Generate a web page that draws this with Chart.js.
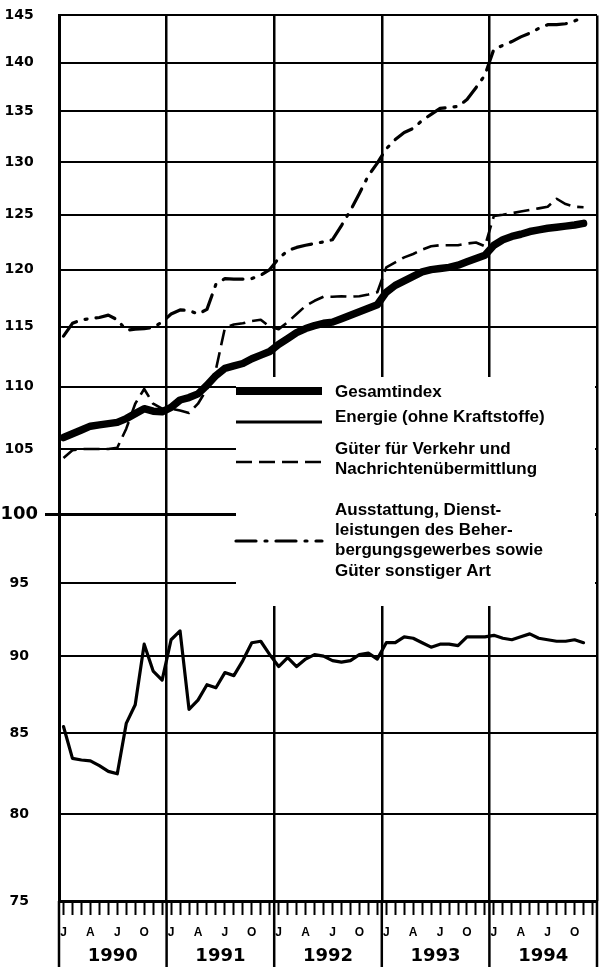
<!DOCTYPE html>
<html><head><meta charset="utf-8">
<script src="https://cdn.jsdelivr.net/npm/chart.js@4/dist/chart.umd.min.js"></script>
<style>html,body{margin:0;padding:0;background:#fff;}canvas{display:block;}</style>
</head><body>
<canvas id="c" width="599" height="967" style="width:599px;height:967px"></canvas>
<script>
// ---- data ----
const years = ['1990', '1991', '1992', '1993', '1994'];
const monthLetters = ['J', '', '', 'A', '', '', 'J', '', '', 'O', '', ''];
const yTicks = [75, 80, 85, 90, 95, 100, 105, 110, 115, 120, 125, 130, 135, 140, 145];
const seriesNames = [
  ['Gesamtindex'],
  ['Energie (ohne Kraftstoffe)'],
  ['Güter für Verkehr und', 'Nachrichtenübermittlung'],
  ['Ausstattung, Dienst-', 'leistungen des Beher-', 'bergungsgewerbes sowie', 'Güter sonstiger Art']
];
// monthly values Jan 1990 – Nov 1994
const gesamtindex = [
  105.9, 106.2, 106.5, 106.8, 106.9, 107.0, 107.1, 107.4, 107.8, 108.2, 108.0, 107.95,
  108.3, 108.9, 109.1, 109.4, 110.1, 110.9, 111.5, 111.7, 111.9, 112.3, 112.6, 112.9,
  113.5, 114.0, 114.5, 114.85, 115.1, 115.3, 115.4, 115.7, 116.0, 116.3, 116.6, 116.9,
  118.0, 118.6, 119.0, 119.4, 119.8, 120.0, 120.1, 120.2, 120.4, 120.7, 121.0, 121.3,
  122.2, 122.7, 123.0, 123.2, 123.45, 123.6, 123.75, 123.85, 123.95, 124.05, 124.2
];
const energie = [
  85.4, 83.4, 83.3, 83.25, 82.95, 82.6, 82.45, 85.6, 86.8, 90.8, 89.0, 88.4,
  91.1, 91.7, 86.5, 87.1, 88.1, 87.9, 88.9, 88.7, 89.7, 90.9, 91.0, 90.1,
  89.3, 89.9, 89.3, 89.8, 90.1, 90.0, 89.7, 89.6, 89.7, 90.1, 90.2, 89.8,
  90.9, 90.9, 91.3, 91.2, 90.9, 90.6, 90.8, 90.8, 90.7, 91.3, 91.3, 91.3,
  91.4, 91.2, 91.1, 91.3, 91.5, 91.2, 91.1, 91.0, 91.0, 91.1, 90.9
];
const gueterVerkehr = [
  104.3, 104.9, 105.0, 105.0, 105.0, 105.0, 105.1, 106.6, 108.6, 109.8, 108.6, 108.2,
  108.2, 108.05, 107.85, 108.6, 109.8, 111.4, 114.9, 115.2, 115.3, 115.5, 115.6, 115.0,
  114.8, 115.4, 116.1, 116.8, 117.25, 117.6, 117.6, 117.65, 117.6, 117.65, 117.8, 118.0,
  120.2, 120.65, 121.1, 121.4, 121.8, 122.1, 122.2, 122.2, 122.2, 122.35, 122.45, 122.1,
  124.9, 125.0, 125.15, 125.3, 125.45, 125.6, 125.75, 126.5, 126.0, 125.75, 125.7
];
const ausstattung = [
  114.2, 115.3, 115.6, 115.7, 115.8, 116.0, 115.6, 114.7, 114.8, 114.85, 114.95, 115.4,
  116.1, 116.45, 116.4, 116.1, 116.5, 118.7, 119.2, 119.15, 119.15, 119.2, 119.5, 120.0,
  121.0, 121.7, 122.0, 122.2, 122.35, 122.5, 122.7, 124.0, 125.4, 127.0, 128.7, 129.9,
  131.3, 132.2, 132.9, 133.3, 134.1, 134.7, 135.3, 135.4, 135.5, 136.2, 137.4, 138.7,
  141.4, 141.8, 142.2, 142.7, 143.1, 143.6, 144.0, 144.0, 144.1, 144.4, 144.8
];

// ---- helpers ----
const monthsTotal = years.length * 12;
const monthCenters = Array.from({length: monthsTotal}, (_, i) => i + 0.5);
const yearCenters = years.map((_, i) => i * 12 + 6);
const toPoints = arr => arr.map((v, i) => ({x: monthCenters[i], y: v}));
const noSidePadding = s => { s.paddingLeft = 0; s.paddingRight = 0; };

const legendPlugin = {
  id: 'panel',
  beforeDatasetsDraw(chart) {
    const {ctx, chartArea: a, scales} = chart;
    ctx.save();
    // year separators continue through the month / year label rows
    ctx.strokeStyle = '#000';
    ctx.lineWidth = 2.5;
    for (let i = 0; i <= years.length; i++) {
      const x = scales.x.getPixelForValue(i * 12);
      ctx.beginPath(); ctx.moveTo(x, a.bottom); ctx.lineTo(x, chart.height); ctx.stroke();
    }
    // white panel behind the key
    ctx.fillStyle = '#fff';
    ctx.fillRect(236, 377, a.right - 2 - 236, 606 - 377);
    ctx.restore();
  },
  afterDatasetsDraw(chart) {
    const {ctx} = chart;
    const sampleY = [391, 422, 462, 541];
    const textY = [392, 417, 449, 510];
    ctx.save();
    chart.data.datasets.forEach((ds, i) => {
      ctx.beginPath();
      ctx.strokeStyle = '#000';
      ctx.lineWidth = ds.legendWidth || ds.borderWidth;
      ctx.setLineDash(ds.borderDash || []);
      ctx.lineCap = ds.borderDash ? (ds.borderCapStyle || 'butt') : 'butt';
      ctx.moveTo(236, sampleY[i]);
      ctx.lineTo(322, sampleY[i]);
      ctx.stroke();
      ctx.setLineDash([]);
      ctx.fillStyle = '#000';
      ctx.font = 'bold 17px "Liberation Sans", Arial, sans-serif';
      ctx.textBaseline = 'middle';
      ctx.textAlign = 'left';
      seriesNames[i].forEach((line, k) => ctx.fillText(line, 335, textY[i] + k * 20.3));
    });
    ctx.restore();
  }
};

new Chart(document.getElementById('c'), {
  type: 'line',
  data: {
    datasets: [
      {label: seriesNames[0].join(' '), data: toPoints(gesamtindex), borderColor: '#000', borderWidth: 7.5,
       legendWidth: 8, borderCapStyle: 'round', borderJoinStyle: 'round', pointRadius: 0, tension: 0,
       xAxisID: 'x', yAxisID: 'y'},
      {label: seriesNames[1].join(' '), data: toPoints(energie), borderColor: '#000', borderWidth: 3.2,
       borderCapStyle: 'round', borderJoinStyle: 'round', pointRadius: 0, tension: 0,
       xAxisID: 'x', yAxisID: 'y'},
      {label: seriesNames[2].join(' '), data: toPoints(gueterVerkehr), borderColor: '#000', borderWidth: 2.6,
       borderDash: [16, 7], borderCapStyle: 'butt', borderJoinStyle: 'round', pointRadius: 0, tension: 0,
       xAxisID: 'x', yAxisID: 'y'},
      {label: seriesNames[3].join(' '), data: toPoints(ausstattung), borderColor: '#000', borderWidth: 3.2,
       borderDash: [20, 9, 2, 9], borderCapStyle: 'round', borderJoinStyle: 'round', pointRadius: 0, tension: 0,
       xAxisID: 'x', yAxisID: 'y'}
    ]
  },
  options: {
    responsive: false,
    animation: false,
    devicePixelRatio: 1,
    layout: {padding: {top: 12, right: 2, bottom: 0, left: 0}},
    plugins: {legend: {display: false}, tooltip: {enabled: false}},
    scales: {
      y: {
        type: 'logarithmic', min: 75, max: 145, position: 'left',
        afterBuildTicks: s => { s.ticks = yTicks.map(v => ({value: v})); },
        afterFit: s => { s.width = 59; },
        ticks: {
          autoSkip: false, color: '#000', padding: 7, crossAlign: 'center',
          callback: v => String(v),
          font: c => (c.tick && c.tick.value === 100)
            ? {family: 'DejaVu Sans', size: 18, weight: 'bold'}
            : {family: 'DejaVu Sans', size: 14, weight: 'bold'}
        },
        grid: {
          color: '#000',
          lineWidth: c => (c.tick && c.tick.value === 100) ? 3 : 2,
          drawTicks: true, tickLength: 14, tickWidth: 3,
          tickColor: c => (c.tick && c.tick.value === 100) ? '#000' : 'rgba(0,0,0,0)'
        },
        border: {display: true, color: '#000', width: 3}
      },
      x: {
        type: 'linear', min: 0, max: monthsTotal, position: 'bottom', weight: 0,
        afterBuildTicks: s => { s.ticks = monthCenters.map(v => ({value: v})); },
        afterFit: s => { s.height = 40; noSidePadding(s); },
        ticks: {
          autoSkip: false, maxRotation: 0, minRotation: 0, padding: 10, color: '#000',
          font: {family: 'Liberation Sans', size: 12, weight: 'bold'},
          callback: (v, i) => monthLetters[i % 12]
        },
        grid: {drawOnChartArea: false, drawTicks: true, tickLength: 14, tickWidth: 2, tickColor: '#000', color: '#000'},
        border: {display: true, color: '#000', width: 3}
      },
      xYears: {
        type: 'linear', min: 0, max: monthsTotal, position: 'bottom', weight: 1,
        afterBuildTicks: s => { s.ticks = yearCenters.map(v => ({value: v})); },
        afterFit: s => { s.height = 26; noSidePadding(s); },
        ticks: {
          autoSkip: false, maxRotation: 0, minRotation: 0, padding: 5, color: '#000',
          font: {family: 'DejaVu Sans', size: 18, weight: 'bold'},
          callback: (v, i) => years[i]
        },
        grid: {offset: true, drawOnChartArea: true, drawTicks: false, color: '#000', lineWidth: 2.5},
        border: {display: false}
      }
    }
  },
  plugins: [legendPlugin]
});
</script>
</body></html>
